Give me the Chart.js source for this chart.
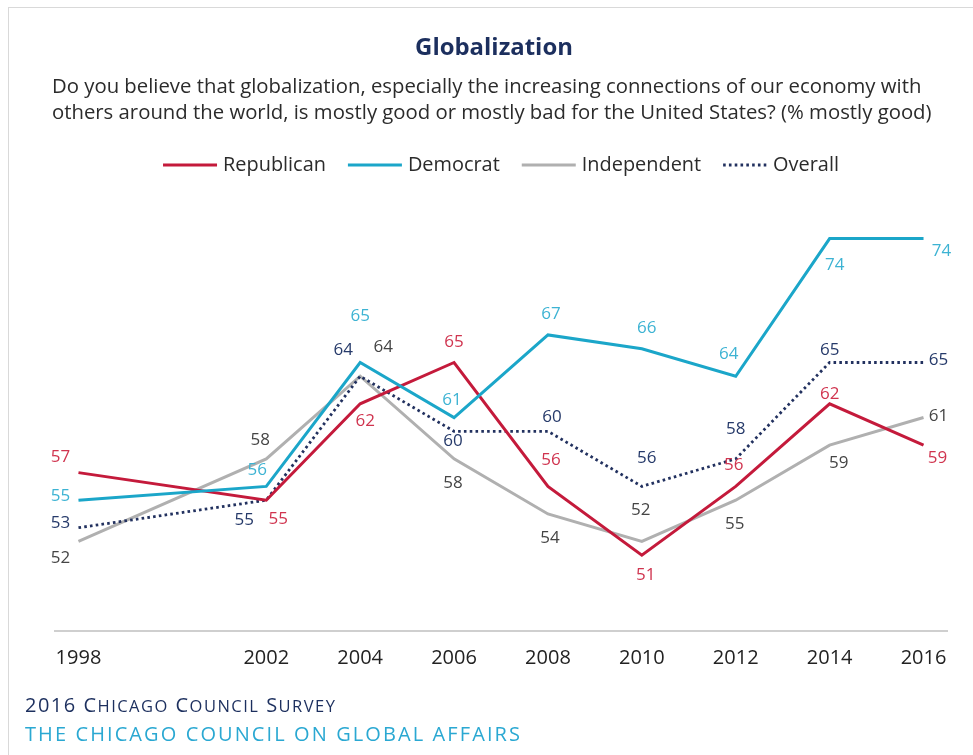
<!DOCTYPE html>
<html><head><meta charset="utf-8">
<script src="https://cdn.jsdelivr.net/npm/chart.js@4"></script>
<style>
html,body{margin:0;padding:0;background:#fff;}
#wrap{position:relative;width:973px;height:755px;overflow:hidden;}
#frame{position:absolute;left:8px;top:7px;width:980px;height:760px;border-top:1px solid #d9d9d9;border-left:1px solid #d9d9d9;}
canvas{position:absolute;left:0;top:0;}
</style></head><body>
<div id="wrap"><div id="frame"></div><canvas id="c" width="973" height="755"></canvas></div>
<script>
const years = [1998, 2002, 2004, 2006, 2008, 2010, 2012, 2014, 2016];
const republican = [57, 55, 62, 65, 56, 51, 56, 62, 59];
const democrat = [55, 56, 65, 61, 67, 66, 64, 74, 74];
const independent = [52, 58, 64, 58, 54, 52, 55, 59, 61];
const overall = [53, 55, 64, 60, 60, 56, 58, 65, 65];
const seriesNames = ['Republican', 'Democrat', 'Independent', 'Overall'];
const titleText = 'Globalization';
const subtitleLines = [
  'Do you believe that globalization, especially the increasing connections of our economy with',
  'others around the world, is mostly good or mostly bad for the United States? (% mostly good)'
];
const footerLines = ['2016 Chicago Council Survey', 'THE CHICAGO COUNCIL ON GLOBAL AFFAIRS'];

// label placement (style), offsets from each point in px
const labelOffsets = [
  [[-18,-15],[12,19],[5,17],[0,-20],[3,-26],[4,20],[-2,-21],[0,-10],[14,13]],
  [[-18,-4],[-9,-16],[0,-46],[-2,-17],[3,-21],[5,-21],[-7,-22],[5,27],[18,13]],
  [[-18,17],[-6,-19],[23,-29],[-1,24],[2,24],[-1,-31],[-1,24],[9,18],[15,-1]],
  [[-18,-5],[-22,20],[-17,-26],[-1,10],[4,-14],[5,-28],[0,-30],[0,-12],[15,-2]]
];
const lineColors = ['#c41a3b', '#1ba6c9', '#b0b0b0', '#22315f'];
const labelColors = ['#d0344f', '#3db3d3', '#454545', '#263a6a'];

const FONT = '"Open Sans", "DejaVu Sans", sans-serif';

function mk(arr){ return years.map((y,i)=>({x:y, y:arr[i]})); }
const seriesData = [republican, democrat, independent, overall];

const datasets = seriesData.map((arr, i) => ({
  label: seriesNames[i],
  data: mk(arr),
  borderColor: lineColors[i],
  backgroundColor: lineColors[i],
  borderWidth: i === 3 ? 2.8 : 3,
  borderDash: i === 3 ? [2.6, 3.2] : [],
  pointRadius: 0,
  tension: 0,
  fill: false,
  clip: false
}));
datasets[0].order = 2; datasets[1].order = 1; datasets[2].order = 4; datasets[3].order = 3;

function fitSize(ctx, text, font, target){
  ctx.font = font.replace('SIZE', '100px');
  const w = ctx.measureText(text).width;
  return 100 * target / w;
}
// manual small caps: lowercase letters drawn as smaller capitals, spread to target width
function smallCaps(ctx, text, x, y, big, small, target){
  const parts = [...text].map(ch => {
    const isLower = ch !== ch.toUpperCase();
    const f = (isLower ? small : big) + 'px ' + FONT;
    ctx.font = f;
    const c = ch.toUpperCase();
    return { c, f, w: ctx.measureText(c).width };
  });
  const natural = parts.reduce((a,p)=>a+p.w,0);
  const ls = Math.max(0, (target - natural) / (parts.length - 1));
  let cx = x;
  parts.forEach(p => { ctx.font = p.f; ctx.fillText(p.c, cx, y); cx += p.w + ls; });
}

const decor = {
  id: 'decor',
  afterDraw(chart){
    const ctx = chart.ctx;
    ctx.save();
    // Title
    let s = fitSize(ctx, titleText, 'bold SIZE ' + FONT, 158);
    ctx.font = 'bold ' + s + 'px ' + FONT;
    ctx.fillStyle = '#1c2f5e';
    ctx.textAlign = 'center'; ctx.textBaseline = 'middle';
    ctx.fillText(titleText, 494, 48);
    // Subtitle
    s = fitSize(ctx, subtitleLines[0], 'SIZE ' + FONT, 870);
    ctx.font = s + 'px ' + FONT;
    ctx.fillStyle = '#2b2b2b';
    ctx.textAlign = 'left';
    ctx.fillText(subtitleLines[0], 52, 87);
    ctx.fillText(subtitleLines[1], 52, 113);
    // Legend
    s = fitSize(ctx, 'Republican', 'SIZE ' + FONT, 103);
    ctx.font = s + 'px ' + FONT;
    const lineLen = [54, 54, 54, 44], gap = 6, space = 22;
    const widths = seriesNames.map((n,i)=> lineLen[i] + gap + ctx.measureText(n).width);
    const total = widths.reduce((a,b)=>a+b,0) + space*(seriesNames.length-1);
    let x = 501 - total/2;
    const ly = 165;
    seriesNames.forEach((n,i)=>{
      ctx.beginPath();
      ctx.strokeStyle = lineColors[i];
      ctx.lineWidth = i===3 ? 2.8 : 3;
      ctx.setLineDash(i===3 ? [2.6,3.2] : []);
      ctx.moveTo(x, ly); ctx.lineTo(x+lineLen[i], ly); ctx.stroke();
      ctx.setLineDash([]);
      ctx.fillStyle = '#2b2b2b';
      ctx.textAlign = 'left';
      ctx.fillText(n, x+lineLen[i]+gap, ly);
      x += widths[i] + space;
    });
    // Data labels
    ctx.font = '17px ' + FONT;
    ctx.textAlign = 'center'; ctx.textBaseline = 'middle';
    chart.data.datasets.forEach((ds, di)=>{
      const meta = chart.getDatasetMeta(di);
      meta.data.forEach((pt, j)=>{
        const off = labelOffsets[di][j];
        ctx.fillStyle = labelColors[di];
        ctx.fillText(String(seriesData[di][j]), pt.x + off[0], pt.y + off[1]);
      });
    });
    // Footer
    ctx.textAlign = 'left';
    ctx.textBaseline = 'alphabetic';
    ctx.fillStyle = '#1c2f5e';
    smallCaps(ctx, footerLines[0], 25, 712, 20, 16.5, 310);
    ctx.fillStyle = '#2aa8d2';
    smallCaps(ctx, footerLines[1], 25, 741, 20, 16.5, 495);
    ctx.restore();
  }
};

new Chart(document.getElementById('c'), {
  type: 'line',
  data: { datasets },
  options: {
    responsive: false,
    animation: false,
    devicePixelRatio: 1,
    layout: { padding: { left: 55, right: 26, top: 211, bottom: 79 } },
    plugins: { legend: { display: false }, tooltip: { enabled: false }, title: { display: false } },
    scales: {
      x: {
        type: 'linear',
        min: 1997.5, max: 2016.5,
        afterBuildTicks: (scale) => { scale.ticks = years.map(v => ({ value: v })); },
        afterFit: (scale) => { scale.height = 45; },
        grid: { display: false, drawTicks: false },
        border: { display: true, color: '#cfcfcf', width: 2 },
        ticks: {
          padding: 15,
          color: '#222',
          font: { family: FONT, size: 20, weight: 500 },
          autoSkip: false, maxRotation: 0,
          callback: (v) => String(v)
        }
      },
      y: {
        display: false,
        min: 45.5, max: 76
      }
    }
  },
  plugins: [decor]
});
</script>
</body></html>
